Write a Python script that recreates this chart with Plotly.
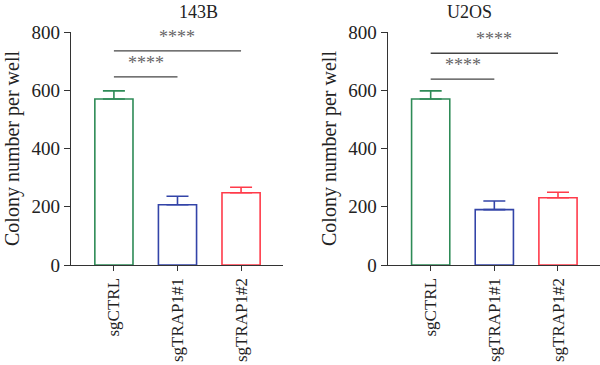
import plotly.graph_objects as go
from plotly.subplots import make_subplots

categories = ["sgCTRL", "sgTRAP1#1", "sgTRAP1#2"]
panels = ["143B", "U2OS"]
means_143B = [570, 207, 248]
errs_143B = [28, 29, 19]
means_U2OS = [570, 190, 231]
errs_U2OS = [28, 30, 19]
# significance brackets: (from category, to category, height, label)
sig_143B = [("sgCTRL", "sgTRAP1#1", 646, "****"), ("sgCTRL", "sgTRAP1#2", 735, "****")]
sig_U2OS = [("sgCTRL", "sgTRAP1#1", 638, "****"), ("sgCTRL", "sgTRAP1#2", 727, "****")]
y_ticks = [0, 200, 400, 600, 800]

colors = ["#2e8b57", "#3344a8", "#ff3b4a"]
FONT = "Liberation Serif"
TXT = "#222222"

fig = make_subplots(rows=1, cols=2)

data = [(means_143B, errs_143B, sig_143B), (means_U2OS, errs_U2OS, sig_U2OS)]
for ci, (means, errs, sigs) in enumerate(data, start=1):
    for i, cat in enumerate(categories):
        fig.add_trace(go.Bar(
            x=[cat], y=[means[i]], width=0.6,
            marker=dict(color="white", line=dict(color=colors[i], width=1.6)),
            error_y=dict(type="data", array=[errs[i]], arrayminus=[0], symmetric=False,
                         color=colors[i], thickness=1.6, width=11),
            showlegend=False,
        ), row=1, col=ci)
    xref = "x" if ci == 1 else "x2"
    yref = "y" if ci == 1 else "y2"
    for a, b, h, lab in sigs:
        fig.add_shape(type="line", x0=categories.index(a), x1=categories.index(b), y0=h, y1=h,
                      xref=xref, yref=yref, line=dict(color="#444444", width=1.3))
        fig.add_annotation(x=(categories.index(a) + categories.index(b)) / 2, y=h, xref=xref, yref=yref,
                           text=lab, showarrow=False, yanchor="bottom", yshift=2,
                           font=dict(family=FONT, size=18, color="#666666"))

for ci in (1, 2):
    fig.update_xaxes(type="category", categoryorder="array", categoryarray=categories,
                     range=[-0.675, 2.66], showline=True, linecolor="#333333", linewidth=1.3,
                     ticks="outside", ticklen=5, tickcolor="#333333", tickwidth=1.3,
                     tickangle=-90, tickfont=dict(family=FONT, size=17, color=TXT),
                     automargin=False,
                     showgrid=False, zeroline=False, row=1, col=ci)
    fig.update_yaxes(range=[0, 800], tickvals=y_ticks, showline=True, linecolor="#333333", linewidth=1.3,
                     ticks="outside", ticklen=6, tickcolor="#333333", tickwidth=1.3,
                     tickfont=dict(family=FONT, size=19, color=TXT),
                     title=dict(text="Colony number per well", font=dict(family=FONT, size=20, color=TXT), standoff=6),
                     automargin=False,
                     showgrid=False, zeroline=False, row=1, col=ci)

fig.update_layout(
    width=600, height=365,
    margin=dict(l=71, r=0, t=32, b=100),
    plot_bgcolor="white", paper_bgcolor="white",
    xaxis=dict(domain=[0, 0.4008]),
    xaxis2=dict(domain=[0.5987, 1.0]),
)
# panel titles
for name, dom in zip(panels, [fig.layout.xaxis.domain, fig.layout.xaxis2.domain]):
    fig.add_annotation(text=name, x=(dom[0] + dom[1]) / 2, y=1.0, xref="paper", yref="paper",
                       yanchor="bottom", yshift=8, showarrow=False,
                       font=dict(family=FONT, size=18, color=TXT))

fig.write_html("out.html")
